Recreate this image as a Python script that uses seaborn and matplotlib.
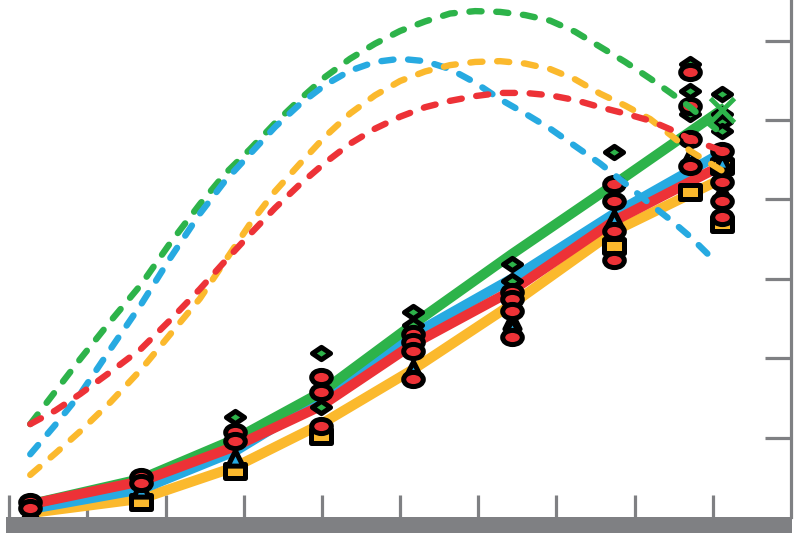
import numpy as np
import pandas as pd
import matplotlib
matplotlib.use("Agg")
import matplotlib.pyplot as plt
import seaborn as sns
from matplotlib.path import Path
from matplotlib.markers import MarkerStyle
from matplotlib.patches import Rectangle

# ---------------- data ----------------
series_names = ["green", "blue", "red", "yellow"]
colors = {"green": "#2db34a", "blue": "#27aae1", "red": "#ed3237", "yellow": "#fbb92d"}

# solid (fitted) lines
line_x = [0.27, 1.69, 2.89, 3.99, 5.17, 6.43, 7.74, 9.16]
line_green = [0.16, 0.48, 0.98, 1.57, 2.43, 3.31, 4.19, 5.16]
line_blue = [0.10, 0.35, 0.83, 1.49, 2.30, 3.00, 3.82, 4.61]
line_red = [0.16, 0.45, 0.89, 1.40, 2.18, 2.85, 3.73, 4.45]
line_yellow = [0.05, 0.23, 0.63, 1.17, 1.86, 2.68, 3.60, 4.28]

# dashed curves
dash_x = [0.27, 0.59, 0.91, 1.30, 1.69, 2.06, 2.44, 2.76, 3.08, 3.40, 3.72, 4.04, 4.36,
          4.68, 5.00, 5.32, 5.64, 5.96, 6.28, 6.60, 6.92, 7.24, 7.56, 7.88, 8.20, 8.46, 8.71, 9.12]
dash_green = [1.17, 1.58, 1.99, 2.47, 2.93, 3.45, 3.94, 4.32, 4.63, 4.96, 5.26, 5.54, 5.77,
              5.96, 6.12, 6.24, 6.34, 6.37, 6.36, 6.32, 6.25, 6.11, 5.92, 5.73, 5.52, 5.34, 5.16, 4.82]
dash_blue = [0.79, 1.16, 1.55, 2.12, 2.68, 3.26, 3.82, 4.23, 4.57, 4.91, 5.20, 5.44, 5.62,
             5.73, 5.77, 5.74, 5.64, 5.47, 5.26, 5.08, 4.89, 4.67, 4.45, 4.20, 3.94, 3.74, 3.53, 3.22]
dash_yellow = [0.53, 0.80, 1.08, 1.45, 1.86, 2.30, 2.75, 3.22, 3.69, 4.10, 4.45, 4.79, 5.08,
               5.31, 5.49, 5.61, 5.69, 5.73, 5.74, 5.71, 5.64, 5.51, 5.33, 5.18, 5.01, 4.81, 4.61, 4.36]
dash_red = [1.17, 1.34, 1.55, 1.83, 2.12, 2.48, 2.87, 3.22, 3.56, 3.89, 4.19, 4.46, 4.70,
            4.89, 5.04, 5.16, 5.24, 5.30, 5.34, 5.34, 5.31, 5.25, 5.16, 5.08, 4.99, 4.88, 4.76, 4.61]

# observed points
pts_green_x = [2.89, 3.99, 3.99, 5.17, 5.17, 6.43, 6.43, 7.74, 8.71, 8.71, 8.71, 9.12, 9.12, 9.12, 9.12]
pts_green_y = [1.26, 2.07, 1.39, 2.58, 2.42, 3.19, 2.97, 4.60, 5.71, 5.37, 5.08, 5.33, 5.08, 4.97, 4.86]
pts_blue_x = [0.27, 1.69, 2.89, 5.17, 5.17, 6.43, 6.43, 7.74, 8.71, 9.12, 9.12]
pts_blue_y = [0.06, 0.35, 0.74, 2.39, 1.86, 2.47, 2.39, 3.75, 4.53, 4.47, 4.09]
pts_red_x = [0.27, 0.27, 1.69, 1.69, 2.89, 2.89, 3.99, 3.99, 3.99, 5.17, 5.17, 5.17, 5.17,
             6.43, 6.43, 6.43, 6.43, 7.74, 7.74, 7.74, 7.74, 8.71, 8.71, 8.71, 8.71,
             9.12, 9.12, 9.12, 9.12]
pts_red_y = [0.19, 0.11, 0.50, 0.43, 1.07, 0.96, 1.76, 1.57, 1.15, 2.30, 2.20, 2.09, 1.74,
             2.83, 2.75, 2.59, 2.27, 4.19, 3.98, 3.60, 3.24, 5.60, 5.18, 4.76, 4.42,
             4.61, 4.22, 3.98, 3.78]
pts_yellow_x = [1.69, 2.89, 3.99, 7.74, 8.71, 9.12, 9.12]
pts_yellow_y = [0.19, 0.58, 1.02, 3.41, 4.09, 4.42, 3.69]

major_ticks_x = [0, 2, 3, 4, 5, 6, 7, 8, 9]
minor_ticks_x = [1]
ticks_y = [1, 2, 3, 4, 5, 6]

# ---------------- figure ----------------
sns.set_theme(style="white")
plt.rcParams['font.family'] = ['DejaVu Sans']
fig = plt.figure(figsize=(8, 5.33), dpi=100)
W, H = 800, 533
gray = "#7f8083"
ax = fig.add_axes([6 / W, 16 / H, (791 - 6) / W, 517 / H])
ax.set_facecolor("white")

fig.patches.append(Rectangle((6 / W, 0), (792 - 6) / W, 16 / H, transform=fig.transFigure,
                             facecolor=gray, edgecolor="none", zorder=0))

n = len(line_x)
lines_df = pd.DataFrame({
    "x": line_x * 4,
    "y": line_green + line_blue + line_red + line_yellow,
    "s": ["green"] * n + ["blue"] * n + ["red"] * n + ["yellow"] * n,
})
for name in ["yellow", "blue", "green", "red"]:
    d = lines_df[lines_df.s == name]
    sns.lineplot(data=d, x="x", y="y", color=colors[name], lw=7.3, ax=ax,
                 solid_capstyle="butt", solid_joinstyle="round", zorder=2, sort=False)

# markers
ell = Path.unit_circle()
ell = Path(ell.vertices * np.array([1.0, 0.72]), ell.codes)
diam = Path([(-1, 0), (0, 0.68), (1, 0), (0, -0.68), (-1, 0)],
            [Path.MOVETO, Path.LINETO, Path.LINETO, Path.LINETO, Path.CLOSEPOLY])
sqr = Path([(-1, -0.75), (1, -0.75), (1, 0.75), (-1, 0.75), (-1, -0.75)],
           [Path.MOVETO, Path.LINETO, Path.LINETO, Path.LINETO, Path.CLOSEPOLY])

sets = [
    (pts_yellow_x, pts_yellow_y, "yellow", MarkerStyle(sqr), 190),
    (pts_blue_x, pts_blue_y, "blue", MarkerStyle("^"), 120),
    (pts_green_x, pts_green_y, "green", MarkerStyle(diam), 170),
    (pts_red_x, pts_red_y, "red", MarkerStyle(ell), 200),
]
for xs, ys, name, mk, s in sets:
    d = pd.DataFrame({"x": xs, "y": ys})
    sns.scatterplot(data=d, x="x", y="y", color=colors[name], marker=mk, s=s,
                    edgecolor="black", linewidth=3.6, ax=ax, zorder=3)

nd = len(dash_x)
dash_df = pd.DataFrame({
    "x": dash_x * 4,
    "y": dash_green + dash_blue + dash_yellow + dash_red,
    "s": ["green"] * nd + ["blue"] * nd + ["yellow"] * nd + ["red"] * nd,
})
blue_end = list(dash_x)
blue_end[-1] = 9.03
dash_df.loc[dash_df.s == "blue", "x"] = blue_end
for name in ["green", "blue", "yellow", "red"]:
    d = dash_df[dash_df.s == name]
    sns.lineplot(data=d, x="x", y="y", color=colors[name], lw=4.6, ax=ax,
                 dashes=False, zorder=4, sort=False,
                 linestyle=(0, (1.9, 2.3)), dash_capstyle="round")

# green end marker
ax.plot([line_x[-1] - 0.04], [line_green[-1] - 0.04], marker="x", ms=17, mew=3.5,
        color=colors["green"], zorder=5)

ax.set_xlim(-0.04, 10.0)
ax.set_ylim(0.0, 6.51)
ax.set_xlabel("")
ax.set_ylabel("")
ax.set_xticks(major_ticks_x)
ax.set_xticks(minor_ticks_x, minor=True)
ax.set_yticks(ticks_y)
ax.xaxis.set_ticks_position("bottom")
ax.yaxis.set_ticks_position("right")
ax.tick_params(axis="x", which="major", direction="in", length=16, width=2.3,
               color=gray, labelbottom=False)
ax.tick_params(axis="x", which="minor", direction="in", length=5.5, width=2.3,
               color=gray, labelbottom=False)
ax.tick_params(axis="y", which="major", direction="in", length=18.5, width=2.3,
               color=gray, labelright=False, labelleft=False, right=True, left=False)
for side in ["left", "top", "bottom"]:
    ax.spines[side].set_visible(False)
ax.spines["right"].set_color(gray)
ax.spines["right"].set_linewidth(2.3)
ax.grid(False)
legend = ax.get_legend()
if legend:
    legend.remove()

fig.savefig("out.png", dpi=100)
